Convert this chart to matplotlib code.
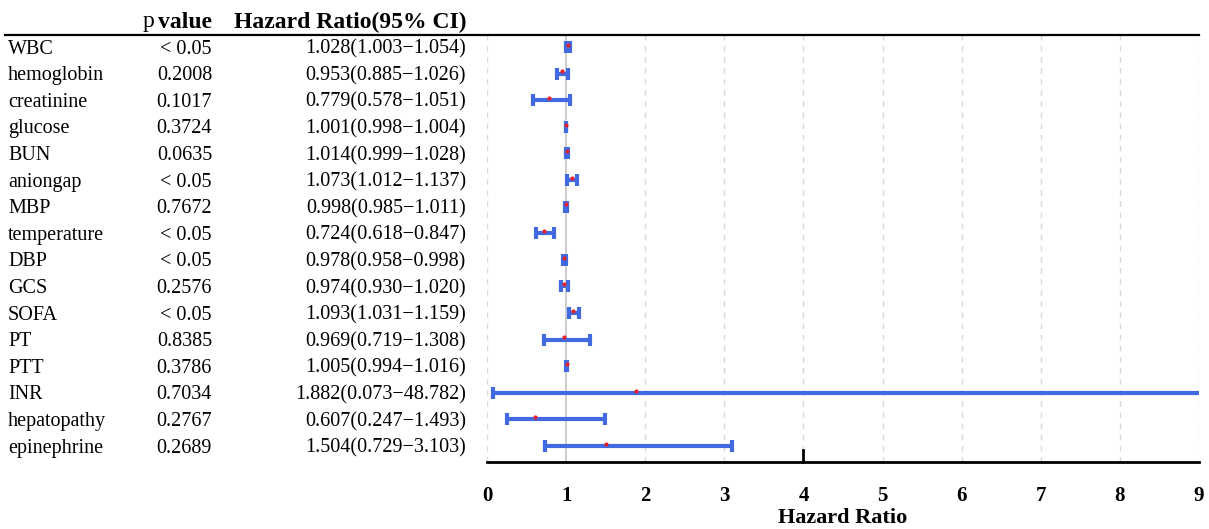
import numpy as np
import matplotlib.pyplot as plt
from matplotlib.transforms import blended_transform_factory

plt.rcParams['font.family'] = ['Liberation Serif', 'DejaVu Serif']

variables = ["WBC", "hemoglobin", "creatinine", "glucose", "BUN", "aniongap", "MBP",
             "temperature", "DBP", "GCS", "SOFA", "PT", "PTT", "INR", "hepatopathy", "epinephrine"]
p_values = ["< 0.05", "0.2008", "0.1017", "0.3724", "0.0635", "< 0.05", "0.7672",
            "< 0.05", "< 0.05", "0.2576", "< 0.05", "0.8385", "0.3786", "0.7034", "0.2767", "0.2689"]
hr = [1.028, 0.953, 0.779, 1.001, 1.014, 1.073, 0.998, 0.724, 0.978, 0.974, 1.093, 0.969, 1.005, 1.882, 0.607, 1.504]
lo = [1.003, 0.885, 0.578, 0.998, 0.999, 1.012, 0.985, 0.618, 0.958, 0.930, 1.031, 0.719, 0.994, 0.073, 0.247, 0.729]
hi = [1.054, 1.026, 1.051, 1.004, 1.028, 1.137, 1.011, 0.847, 0.998, 1.020, 1.159, 1.308, 1.016, 48.782, 1.493, 3.103]

W, H = 1209, 529
fig = plt.figure(figsize=(W / 100, H / 100), dpi=100)
ax = fig.add_axes([487 / W, 1 - 462 / H, (1199 - 487) / W, (462 - 35) / H])

xmax = 9
ax.set_xlim(0, xmax)
ax.set_ylim(15.6, -0.45)

for g in [0, 2, 3, 4, 5, 6, 7, 8, 9]:
    ax.axvline(g, color='#d9d9d9', lw=1, ls=(0, (4, 4)), zorder=0)
ax.axvline(1, color='#c8c8c8', lw=1.3, zorder=0)

blue = '#4169E1'
for i in range(len(variables)):
    right = min(hi[i], xmax)
    ax.plot([lo[i], right], [i, i], color=blue, lw=3, solid_capstyle='butt', zorder=2)
    ax.plot([lo[i]], [i], marker='|', color=blue, ms=9, mew=3, zorder=2)
    if hi[i] <= xmax:
        ax.plot([hi[i]], [i], marker='|', color=blue, ms=9, mew=3, zorder=2)
    ax.plot([hr[i]], [i - 0.08], marker='o', color='#e8202a', ms=3, mew=0, zorder=3)

for s in ['top', 'left', 'right']:
    ax.spines[s].set_visible(False)
ax.spines['bottom'].set_linewidth(2)
ax.set_yticks([])
ax.set_xticks(range(0, 10))
ax.tick_params(axis='x', length=0, pad=17, labelsize=15)
for lab in ax.get_xticklabels():
    lab.set_fontweight('bold')
ax.plot([4, 4], [15.6, 15.15], color='black', lw=2, clip_on=False)
ax.set_xlabel("Hazard Ratio", fontsize=16, fontweight='bold', labelpad=2)

# header line
fig.add_artist(plt.Line2D([5 / W, 1199 / W], [1 - 35 / H, 1 - 35 / H], color='black', lw=1.6))

tr = blended_transform_factory(fig.transFigure, ax.transData)
for i in range(len(variables)):
    y = i + 0.08
    ax.text(8 / W, y, variables[i], transform=tr, ha='left', va='center', fontsize=14.5)
    ax.text(212 / W, y, p_values[i], transform=tr, ha='right', va='center', fontsize=14.5)
    ax.text(466 / W, y, f"{hr[i]:.3f}({lo[i]:.3f}\u2212{hi[i]:.3f})", transform=tr,
            ha='right', va='center', fontsize=14.5)

fig.text(154 / W, 1 - 22 / H, "p", ha='right', va='center', fontsize=17)
fig.text(212 / W, 1 - 22 / H, "value", ha='right', va='center', fontsize=17, fontweight='bold')
fig.text(467 / W, 1 - 22 / H, "Hazard Ratio(95% CI)", ha='right', va='center', fontsize=17, fontweight='bold')

fig.savefig("out.png", dpi=100)
